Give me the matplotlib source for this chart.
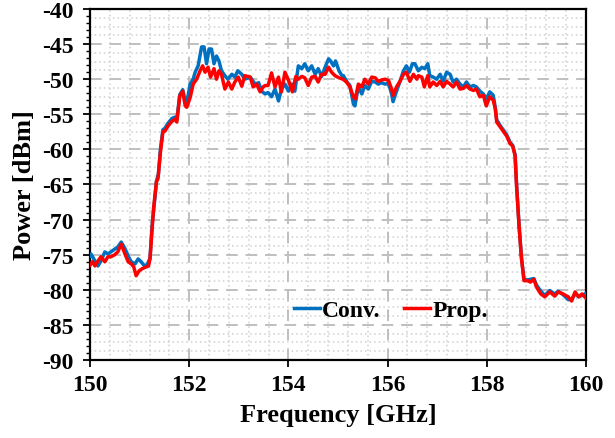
import matplotlib
matplotlib.use("Agg")
import matplotlib.pyplot as plt
import numpy as np

# Frequência (GHz) e potência (dBm)
freq_conv = [150.00, 150.02, 150.10, 150.16, 150.22, 150.30, 150.36, 150.42, 150.50, 150.56,
             150.63, 150.71, 150.77, 150.83, 150.91, 150.97, 151.03, 151.11, 151.16, 151.21,
             151.25, 151.30, 151.34, 151.38, 151.42, 151.47, 151.51, 151.57, 151.65, 151.71,
             151.75, 151.81, 151.87, 151.92, 151.96, 152.02, 152.08, 152.12, 152.18, 152.25,
             152.30, 152.35, 152.40, 152.45, 152.50, 152.55, 152.60, 152.65, 152.72, 152.78,
             152.86, 152.92, 152.98, 153.06, 153.12, 153.23, 153.33, 153.40, 153.46, 153.53,
             153.59, 153.66, 153.73, 153.80, 153.86, 153.93, 154.00, 154.07, 154.13, 154.20,
             154.27, 154.33, 154.40, 154.47, 154.54, 154.60, 154.67, 154.74, 154.81, 154.85,
             154.91, 154.95, 155.02, 155.08, 155.11, 155.18, 155.24, 155.31, 155.34, 155.41,
             155.48, 155.54, 155.61, 155.68, 155.75, 155.81, 155.88, 155.95, 156.02, 156.08,
             156.11, 156.18, 156.25, 156.32, 156.38, 156.44, 156.50, 156.55, 156.62, 156.69,
             156.75, 156.81, 156.85, 156.92, 156.99, 157.06, 157.12, 157.19, 157.26, 157.32,
             157.39, 157.46, 157.53, 157.59, 157.66, 157.73, 157.79, 157.86, 157.93, 157.99,
             158.06, 158.13, 158.17, 158.20, 158.27, 158.33, 158.40, 158.47, 158.52, 158.57,
             158.60, 158.65, 158.70, 158.75, 158.82, 158.88, 158.95, 159.00, 159.09, 159.17,
             159.27, 159.37, 159.44, 159.54, 159.64, 159.71, 159.78, 159.85, 159.92, 160.00]
power_conv = [-75.2, -74.9, -75.9, -76.6, -75.9, -74.6, -74.9, -74.6, -74.2, -73.9,
              -73.2, -74.2, -75.2, -76.0, -76.3, -75.6, -76.0, -76.7, -76.3, -75.5,
              -71.0, -67.5, -64.5, -63.5, -60.0, -57.2, -57.0, -56.3, -55.6, -55.4,
              -55.8, -52.2, -51.5, -53.2, -53.0, -50.7, -50.0, -49.0, -48.1, -45.4,
              -45.4, -47.8, -45.7, -45.7, -47.8, -46.7, -47.4, -48.8, -49.5, -50.0,
              -49.3, -49.7, -48.8, -49.3, -50.0, -49.7, -50.7, -50.5, -51.7, -52.1,
              -51.9, -52.5, -51.4, -53.1, -51.4, -50.7, -51.7, -50.7, -51.7, -48.1,
              -48.5, -47.8, -48.8, -48.1, -49.3, -48.5, -49.6, -48.3, -47.1, -47.4,
              -48.1, -47.4, -48.8, -49.5, -49.5, -50.4, -50.9, -53.5, -53.8, -51.1,
              -52.1, -50.9, -51.4, -50.3, -50.4, -50.7, -50.5, -50.7, -50.6, -52.1,
              -53.2, -51.7, -50.3, -48.8, -48.1, -49.0, -47.8, -47.8, -48.8, -48.3,
              -48.5, -47.8, -49.5, -49.7, -50.0, -49.3, -50.3, -49.0, -49.3, -50.4,
              -50.0, -50.7, -51.1, -50.4, -51.1, -50.9, -51.1, -51.7, -52.1, -52.8,
              -51.8, -52.3, -54.0, -55.8, -56.6, -57.2, -57.9, -59.0, -59.4, -60.7,
              -65.0, -70.8, -75.5, -78.5, -78.6, -78.5, -78.4, -79.3, -80.2, -80.8,
              -80.1, -80.6, -80.2, -80.7, -81.4, -81.4, -80.5, -81.0, -80.8, -80.5]

freq_prop = [150.00, 150.05, 150.10, 150.16, 150.22, 150.30, 150.36, 150.42, 150.50, 150.56,
             150.63, 150.71, 150.77, 150.83, 150.88, 150.93, 150.99, 151.05, 151.11, 151.18,
             151.21, 151.28, 151.34, 151.37, 151.42, 151.47, 151.51, 151.57, 151.65, 151.71,
             151.75, 151.81, 151.87, 151.92, 151.95, 152.02, 152.08, 152.15, 152.22, 152.27,
             152.32, 152.38, 152.43, 152.50, 152.55, 152.60, 152.65, 152.72, 152.79, 152.86,
             152.92, 152.99, 153.06, 153.12, 153.23, 153.29, 153.36, 153.43, 153.49, 153.53,
             153.59, 153.66, 153.73, 153.80, 153.86, 153.93, 154.01, 154.08, 154.15, 154.20,
             154.27, 154.33, 154.40, 154.47, 154.54, 154.60, 154.67, 154.74, 154.81, 154.87,
             154.94, 155.02, 155.10, 155.17, 155.24, 155.31, 155.35, 155.41, 155.48, 155.54,
             155.61, 155.68, 155.75, 155.81, 155.88, 155.95, 156.02, 156.08, 156.11, 156.18,
             156.25, 156.32, 156.38, 156.45, 156.52, 156.59, 156.62, 156.69, 156.74, 156.81,
             156.85, 156.92, 156.99, 157.06, 157.12, 157.19, 157.26, 157.32, 157.39, 157.46,
             157.53, 157.59, 157.66, 157.73, 157.79, 157.86, 157.93, 157.99, 158.06, 158.13,
             158.17, 158.20, 158.27, 158.33, 158.40, 158.47, 158.52, 158.57, 158.60, 158.65,
             158.70, 158.75, 158.82, 158.88, 158.95, 159.00, 159.09, 159.17, 159.27, 159.37,
             159.44, 159.54, 159.64, 159.71, 159.78, 159.85, 159.92, 160.00]
power_prop = [-76.5, -76.0, -76.6, -75.9, -75.3, -76.0, -75.3, -75.3, -75.0, -74.6,
              -73.5, -75.0, -76.0, -76.3, -76.7, -78.0, -77.3, -77.0, -76.8, -76.6,
              -75.6, -68.5, -64.6, -64.2, -60.4, -57.5, -57.4, -56.7, -56.0, -55.7,
              -56.1, -52.4, -51.7, -53.8, -54.0, -52.6, -50.7, -50.0, -48.8, -48.1,
              -49.0, -48.3, -49.7, -48.5, -50.0, -48.8, -49.3, -51.4, -50.4, -51.4,
              -50.4, -49.7, -51.0, -49.5, -49.7, -51.1, -50.7, -51.8, -51.1, -50.9,
              -50.9, -49.1, -51.1, -49.7, -51.8, -49.0, -50.3, -51.8, -49.6, -50.0,
              -49.6, -49.8, -50.9, -49.7, -49.6, -50.4, -49.3, -49.3, -48.3, -49.0,
              -49.5, -49.8, -50.0, -50.4, -51.1, -52.5, -52.8, -50.7, -51.1, -50.0,
              -50.7, -49.7, -49.8, -50.3, -50.1, -50.0, -50.2, -51.4, -52.3, -51.1,
              -50.3, -49.3, -49.0, -50.3, -49.3, -50.0, -49.5, -49.7, -51.1, -49.5,
              -51.1, -50.4, -50.9, -50.3, -51.1, -50.3, -50.7, -51.1, -50.4, -51.4,
              -51.3, -50.9, -51.4, -51.6, -51.4, -52.5, -52.3, -53.8, -52.5, -53.0,
              -54.2, -56.1, -56.8, -57.4, -58.1, -59.2, -59.5, -60.9, -65.2, -70.9,
              -75.6, -78.7, -78.7, -78.9, -78.5, -79.6, -80.6, -81.0, -80.3, -80.9,
              -80.3, -80.6, -81.0, -81.6, -80.3, -81.0, -80.6, -81.2]

plt.rcParams['font.family'] = ['Liberation Serif', 'DejaVu Serif']
plt.rcParams['font.weight'] = 'bold'
plt.rcParams['axes.unicode_minus'] = False

fig = plt.figure(figsize=(6.15, 4.39), dpi=100)
ax = fig.add_axes([90 / 615, 1 - 361 / 439, 496 / 615, 351 / 439])

# Grelha: principal tracejada, secundária pontilhada
for x in np.arange(150, 160.01, 0.4):
    if abs(x - round(x / 2) * 2) > 1e-6:
        ax.axvline(x, color='#d0d0d0', linestyle=(0, (1, 2)), linewidth=1.1, zorder=0)
for y in np.arange(-90, -39.9, 1.25):
    if abs(y - round(y / 5) * 5) > 1e-6:
        ax.axhline(y, color='#d0d0d0', linestyle=(0, (1, 2)), linewidth=1.1, zorder=0)
ax.grid(True, which='major', color='#bfbfbf', linestyle=(0, (6, 4)), linewidth=1.4, zorder=0)
ax.set_axisbelow(True)

ax.plot(freq_conv, power_conv, color='#0070c0', linewidth=2.5, label='Conv.', zorder=3)
ax.plot(freq_prop, power_prop, color='#ff0000', linewidth=2.5, label='Prop.', zorder=4)

ax.set_xlim(150, 160)
ax.set_ylim(-90, -40)
ax.set_xticks(np.arange(150, 161, 2))
ax.set_yticks(np.arange(-90, -39, 5))
ax.set_yticks(np.arange(-90, -39, 1), minor=True)
ax.tick_params(axis='both', which='major', labelsize=17, direction='out', length=5, width=1.3)
ax.tick_params(axis='y', which='minor', direction='out', length=3, width=1.0)
ax.tick_params(axis='y', pad=7)
ax.tick_params(axis='x', pad=5)
for s in ax.spines.values():
    s.set_linewidth(1.6)

ax.set_xlabel('Frequency [GHz]', fontsize=19, fontweight='bold', labelpad=6)
ax.set_ylabel('Power [dBm]', fontsize=19, fontweight='bold', labelpad=4)

ax.legend(loc='center', bbox_to_anchor=(0.607, 0.142), ncol=2, frameon=False,
          prop={'size': 17, 'weight': 'bold'}, handlelength=1.1, handletextpad=0.1,
          columnspacing=1.0)

plt.savefig('out.png', dpi=100)
plt.close()
